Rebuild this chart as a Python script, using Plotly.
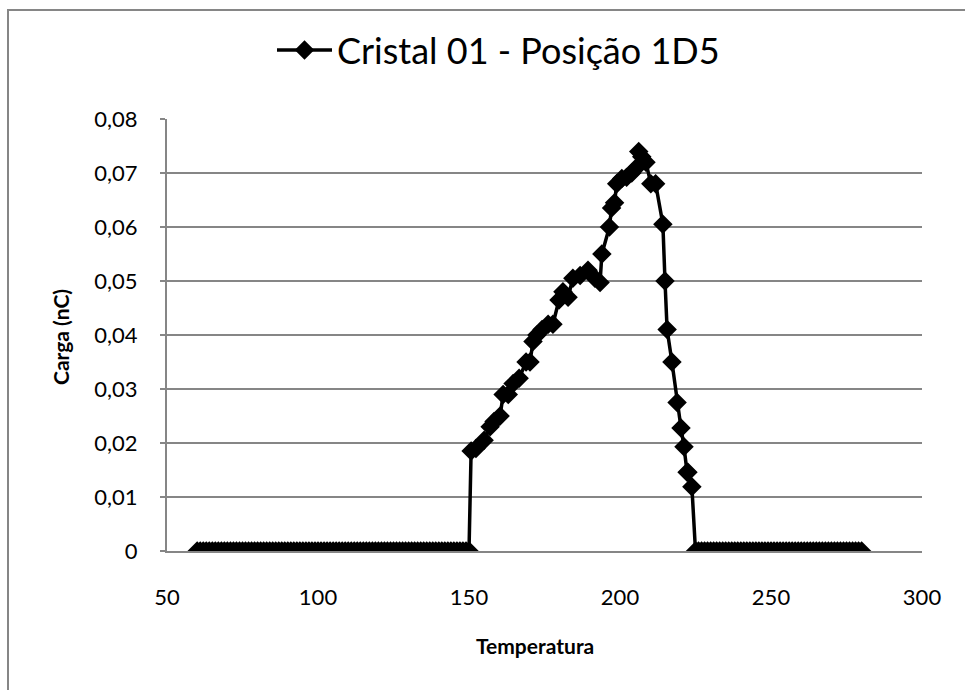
import plotly.graph_objects as go

# ---- data ----
temp_zero_low = list(range(60, 151))          # 60..150, charge 0
charge_zero_low = [0.0] * len(temp_zero_low)

temp_peak = [150.7, 152.3, 155.0, 157.0, 158.3, 160.3, 161.3, 163.0, 164.6, 166.6,
             168.9, 170.2, 171.2, 172.5, 174.2, 176.2, 177.8, 179.8, 181.1, 182.8,
             184.4, 186.8, 189.4, 191.7, 193.4, 194.0, 196.5, 197.2, 198.2, 198.9,
             200.6, 202.2, 203.9, 205.5, 206.2, 207.2, 208.6, 210.2, 211.8, 214.2,
             214.9, 215.6, 217.2, 218.9, 220.2, 221.2, 222.2, 222.5, 223.8]
charge_peak = [0.0185, 0.0190, 0.0205, 0.0230, 0.0240, 0.0250, 0.0290, 0.0290, 0.0310, 0.0320,
               0.0350, 0.0350, 0.0388, 0.0400, 0.0410, 0.0420, 0.0420, 0.0465, 0.0480, 0.0470,
               0.0505, 0.0510, 0.0520, 0.0505, 0.0497, 0.0550, 0.0600, 0.0635, 0.0645, 0.0680,
               0.0690, 0.0692, 0.0700, 0.0710, 0.0740, 0.0730, 0.0720, 0.0680, 0.0680, 0.0605,
               0.0500, 0.0410, 0.0350, 0.0275, 0.0228, 0.0193, 0.0146, 0.0146, 0.0119]
temp_zero_high = list(range(225, 281))        # 225..280, charge 0
charge_zero_high = [0.0] * len(temp_zero_high)

temperature = temp_zero_low + temp_peak + temp_zero_high
charge = charge_zero_low + charge_peak + charge_zero_high

y_tickvals = [0, 0.01, 0.02, 0.03, 0.04, 0.05, 0.06, 0.07, 0.08]
y_ticktext = ["0", "0,01", "0,02", "0,03", "0,04", "0,05", "0,06", "0,07", "0,08"]
x_tickvals = [50, 100, 150, 200, 250, 300]
x_ticktext = ["50", "100", "150", "200", "250", "300"]

series_name = "Cristal 01 - Posição 1D5"

# ---- layout geometry ----
W, H = 965, 690
L, R, T, B = 167, 43, 119, 139
pw, ph = W - L - R, H - T - B

FONT = "Lato, Open Sans, sans-serif"

fig = go.Figure()
fig.add_trace(go.Scatter(
    x=temperature, y=charge, mode="lines+markers", name=series_name,
    line=dict(color="black", width=3.5),
    marker=dict(symbol="diamond", size=15, color="black", line=dict(color="black", width=0)),
))

fig.update_layout(
    width=W, height=H,
    margin=dict(l=L, r=R, t=T, b=B),
    paper_bgcolor="white", plot_bgcolor="white",
    font=dict(family=FONT, color="black", size=22),
    showlegend=True,
    legend=dict(x=(272 - L) / pw, y=(H - B - 50) / ph, xanchor="left", yanchor="middle",
                orientation="h", font=dict(size=36, family=FONT, color="black"),
                bgcolor="rgba(0,0,0,0)", itemwidth=55),
    xaxis=dict(range=[50, 300], tickvals=x_tickvals, ticktext=x_ticktext,
               showgrid=False, zeroline=False, showline=True, linecolor="#868686", linewidth=2,
               ticks="", ticklabelstandoff=26, tickfont=dict(size=22, family=FONT, color="black")),
    yaxis=dict(range=[0, 0.08], tickvals=y_tickvals, ticktext=y_ticktext,
               showgrid=True, gridcolor="#868686", gridwidth=2, zeroline=False,
               showline=True, linecolor="#868686", linewidth=2,
               ticks="outside", ticklen=5, tickcolor="#868686", tickwidth=2,
               ticklabelstandoff=18, tickfont=dict(size=22, family=FONT, color="black")),
    annotations=[
        dict(text="<b>Temperatura</b>", xref="paper", yref="paper",
             x=(535 - L) / pw, y=(H - B - 645) / ph, xanchor="center", yanchor="middle",
             showarrow=False, font=dict(size=21, family=FONT, color="black")),
        dict(text="<b>Carga (nC)</b>", xref="paper", yref="paper", textangle=-90,
             x=(60 - L) / pw, y=(H - B - 337) / ph, xanchor="center", yanchor="middle",
             showarrow=False, font=dict(size=21, family=FONT, color="black")),
    ],
    shapes=[dict(type="rect", xref="paper", yref="paper",
                 x0=(8 - L) / pw, x1=(W + 20 - L) / pw,
                 y0=(H - B - (H + 20)) / ph, y1=(H - B - 10) / ph,
                 line=dict(color="#868686", width=2), fillcolor="rgba(0,0,0,0)", layer="below")],
)

fig.write_html("out.html")
